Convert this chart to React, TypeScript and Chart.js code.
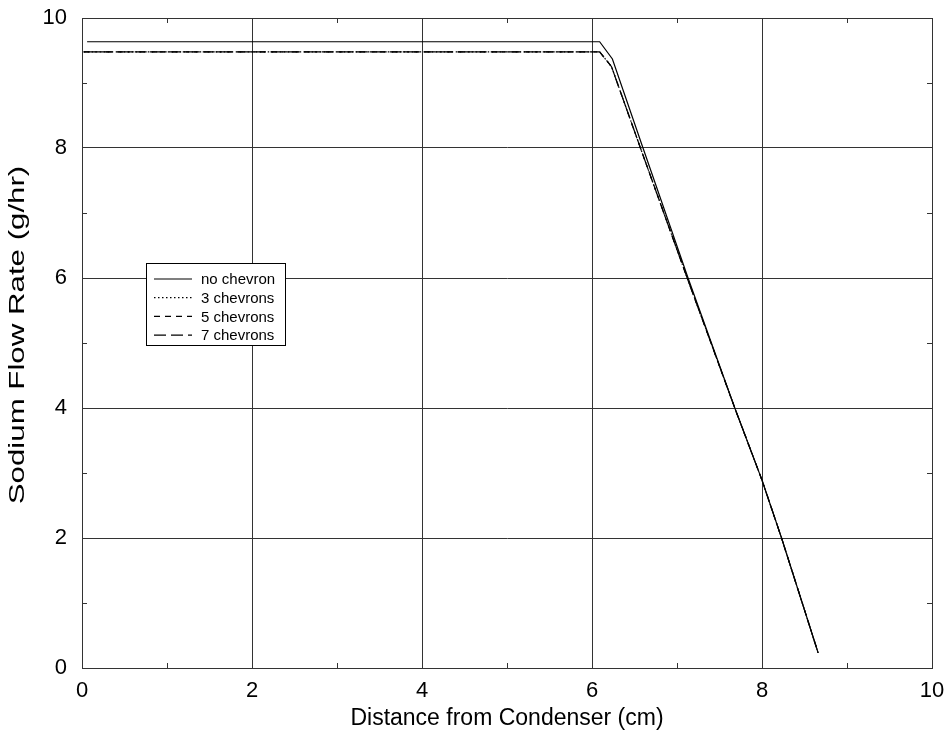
import React, { useEffect, useRef } from "react";
import { Chart, registerables } from "chart.js";

Chart.register(...registerables);

const noChevronX = [0.06, 6.09, 6.24, 6.6, 7.13, 7.68, 8.0, 8.23, 8.66];
const noChevronY = [9.635, 9.635, 9.37, 8.0, 6.0, 4.0, 2.89, 2.0, 0.235];
const chev3X = [0.02, 6.09, 6.23, 6.57, 7.12, 7.68, 8.0, 8.23, 8.66];
const chev3Y = [9.48, 9.48, 9.25, 8.0, 6.0, 4.0, 2.89, 2.0, 0.235];
const chev5X = [0.02, 6.09, 6.23, 6.57, 7.12, 7.68, 8.0, 8.23, 8.66];
const chev5Y = [9.48, 9.48, 9.25, 8.0, 6.0, 4.0, 2.89, 2.0, 0.235];
const chev7X = [0.02, 6.09, 6.23, 6.57, 7.12, 7.68, 8.0, 8.23, 8.66];
const chev7Y = [9.48, 9.48, 9.25, 8.0, 6.0, 4.0, 2.89, 2.0, 0.235];

const seriesNames = ["no chevron", "3 chevrons", "5 chevrons", "7 chevrons"];
const seriesDashes: number[][] = [[], [1.5, 2.5], [6, 5], [12, 5]];
const minorTicks = [1, 3, 5, 7, 9];

const xTitle = "Distance from Condenser (cm)";
const yTitle = "Sodium Flow Rate (g/hr)";

const FONT = "'Liberation Sans', Arial, Helvetica, sans-serif";

function pts(xs: number[], ys: number[]) {
  return xs.map((x, i) => ({ x, y: ys[i] }));
}

const minorTickPlugin = {
  id: "minorTicks",
  afterDatasetsDraw(chart: any) {
    const { ctx, chartArea, scales } = chart;
    ctx.save();
    ctx.strokeStyle = "#333";
    ctx.lineWidth = 1;
    ctx.beginPath();
    minorTicks.forEach((v) => {
      const px = Math.round(scales.x.getPixelForValue(v)) + 0.5;
      ctx.moveTo(px, chartArea.bottom);
      ctx.lineTo(px, chartArea.bottom - 5);
      ctx.moveTo(px, chartArea.top);
      ctx.lineTo(px, chartArea.top + 5);
      const py = Math.round(scales.y.getPixelForValue(v)) + 0.5;
      ctx.moveTo(chartArea.left, py);
      ctx.lineTo(chartArea.left + 5, py);
      ctx.moveTo(chartArea.right, py);
      ctx.lineTo(chartArea.right - 5, py);
    });
    ctx.stroke();
    ctx.restore();
  },
};

const yTitlePlugin = {
  id: "stretchedYTitle",
  afterDraw(chart: any) {
    const { ctx, chartArea } = chart;
    ctx.save();
    ctx.translate(18, (chartArea.top + chartArea.bottom) / 2 - 8);
    ctx.rotate(-Math.PI / 2);
    ctx.scale(1.42, 1);
    ctx.font = "22px " + FONT;
    ctx.fillStyle = "#000";
    ctx.textAlign = "center";
    ctx.textBaseline = "middle";
    ctx.fillText(yTitle, 0, 0);
    ctx.restore();
  },
};

const legendPlugin = {
  id: "boxLegend",
  afterDatasetsDraw(chart: any) {
    const { ctx } = chart;
    const left = 146.5;
    const top = 263.5;
    const w = 139;
    const h = 82;
    ctx.save();
    ctx.fillStyle = "#fff";
    ctx.fillRect(left, top, w, h);
    ctx.strokeStyle = "#000";
    ctx.lineWidth = 1;
    ctx.strokeRect(left, top, w, h);
    ctx.font = "15px " + FONT;
    ctx.textBaseline = "middle";
    ctx.textAlign = "left";
    ctx.fillStyle = "#000";
    seriesNames.forEach((name, i) => {
      const y = 279 + i * 18.7;
      ctx.beginPath();
      ctx.setLineDash(seriesDashes[i]);
      ctx.lineWidth = 1.2;
      ctx.moveTo(154, y);
      ctx.lineTo(192, y);
      ctx.stroke();
      ctx.setLineDash([]);
      ctx.fillText(name, 201, y + 1);
    });
    ctx.restore();
  },
};

export default function App() {
  const ref = useRef<HTMLCanvasElement | null>(null);
  useEffect(() => {
    if (!ref.current) return;
    const allX = [noChevronX, chev3X, chev5X, chev7X];
    const allY = [noChevronY, chev3Y, chev5Y, chev7Y];
    const chart = new Chart(ref.current, {
      type: "line",
      data: {
        datasets: seriesNames.map((name, i) => ({
          label: name,
          data: pts(allX[i], allY[i]),
          borderColor: "#000",
          borderWidth: 1.2,
          borderDash: seriesDashes[i],
          pointRadius: 0,
          fill: false,
          tension: 0,
        })),
      },
      options: {
        animation: false,
        responsive: false,
        devicePixelRatio: 1,
        layout: { padding: { top: 18, right: 20, left: 0, bottom: 0 } },
        plugins: { legend: { display: false }, tooltip: { enabled: false } },
        scales: {
          x: {
            type: "linear",
            min: 0,
            max: 10,
            afterFit: (s: any) => {
              s.height = 65;
              s.paddingLeft = 0;
              s.paddingRight = 0;
            },
            ticks: {
              stepSize: 2,
              color: "#000",
              padding: 10,
              maxRotation: 0,
              font: { family: FONT, size: 22 },
            },
            grid: { color: "#333", lineWidth: 1, drawTicks: false },
            border: { color: "#333" },
            title: {
              display: true,
              text: xTitle,
              color: "#000",
              font: { family: FONT, size: 23 },
              padding: { top: 0, bottom: 1 },
            },
          },
          y: {
            type: "linear",
            min: 0,
            max: 10,
            afterFit: (s: any) => {
              s.width = 82;
              s.paddingTop = 0;
              s.paddingBottom = 0;
            },
            ticks: {
              stepSize: 2,
              color: "#000",
              padding: 15,
              font: { family: FONT, size: 22 },
            },
            grid: { color: "#333", lineWidth: 1, drawTicks: false },
            border: { color: "#333" },
            title: { display: false },
          },
        },
      },
      plugins: [minorTickPlugin, legendPlugin, yTitlePlugin],
    } as any);
    return () => chart.destroy();
  }, []);
  return (
    <div style={{ position: "fixed", left: 0, top: 0, width: 952, height: 733, background: "#fff" }}>
      <canvas ref={ref} width={952} height={733} style={{ width: 952, height: 733 }} />
    </div>
  );
}
